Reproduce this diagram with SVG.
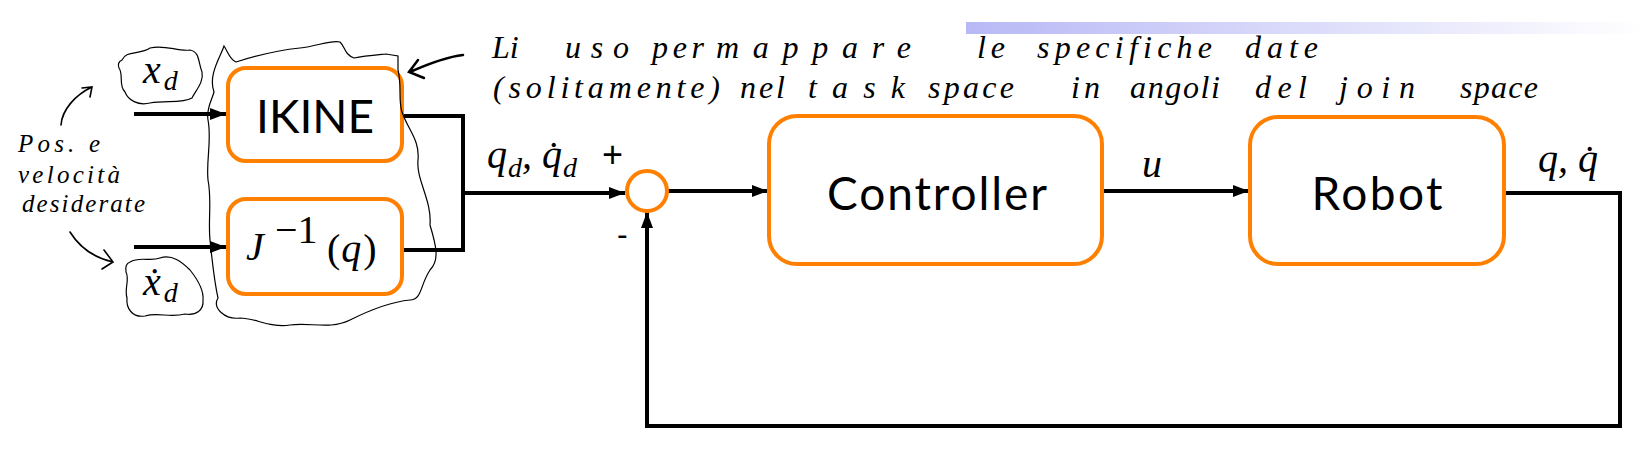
<svg xmlns="http://www.w3.org/2000/svg" width="1643" height="455" viewBox="0 0 1643 455">
<style>
.box{fill:#fff;stroke:#ff8000;stroke-width:4}
.ln{fill:none;stroke:#000;stroke-width:4}
.lbl{font-family:Lato,"Open Sans",sans-serif;font-size:46px;fill:#000;text-anchor:middle}
.m{font-family:"Liberation Serif","DejaVu Serif",serif;font-style:italic;font-size:40px;fill:#000}
.ms{font-family:"Liberation Serif","DejaVu Serif",serif;font-style:italic;font-size:28px;fill:#000}
.mu{font-family:"Liberation Serif","DejaVu Serif",serif;font-size:40px;fill:#000}
.hw{font-family:"Liberation Serif","DejaVu Serif",serif;font-style:italic;font-size:32px;fill:#000}
.hl{font-family:"Liberation Serif","DejaVu Serif",serif;font-style:italic;font-size:25px;fill:#000}
.cl{fill:none;stroke:#000;stroke-width:1.2}
.sg{font-family:"Liberation Sans",Arial,sans-serif;fill:#000}
</style>
<defs>
<marker id="ah" markerUnits="userSpaceOnUse" markerWidth="16" markerHeight="14" refX="16" refY="6" orient="auto">
<path d="M0,0 L16,6 L0,12 Z" fill="#000"/>
</marker>
<linearGradient id="bar" x1="0" y1="0" x2="1" y2="0">
<stop offset="0" stop-color="#b8b8f6"/>
<stop offset="1" stop-color="#ffffff"/>
</linearGradient>
</defs>
<rect x="966" y="22" width="677" height="12" fill="url(#bar)"/>
<g id="connectors">
<path class="ln" d="M134,114 H226" marker-end="url(#ah)"/>
<path class="ln" d="M134,247 H226" marker-end="url(#ah)"/>
<path class="ln" d="M401,116 H463 V250 H401"/>
<path class="ln" d="M463,193 H625" marker-end="url(#ah)"/>
<path class="ln" d="M667,191 H768" marker-end="url(#ah)"/>
<path class="ln" d="M1101,191 H1249" marker-end="url(#ah)"/>
<path class="ln" d="M1505,193 H1620 V426 H647 V212" marker-end="url(#ah)"/>
</g>
<g id="node-ikine">
<rect class="box" x="228" y="68" width="174" height="93" rx="18"/>
<text class="lbl" x="315" y="133">IKINE</text>
</g>
<g id="node-jinv">
<rect class="box" x="228" y="199" width="174" height="95" rx="18"/>
<text class="m" x="246" y="260">J</text>
<text class="mu" x="275" y="243" font-size="30">−1</text>
<text class="mu" x="327" y="262" font-size="44">(<tspan class="m" font-size="40" dx="1">q</tspan><tspan dx="2">)</tspan></text>
</g>
<g id="node-sum">
<circle cx="647" cy="191" r="20" fill="#fff" stroke="#ff8000" stroke-width="4"/>
<text class="sg" x="602" y="167" font-size="36">+</text>
<text class="sg" x="617" y="245" font-size="32">-</text>
</g>
<g id="node-controller">
<rect class="box" x="769" y="116" width="333" height="148" rx="28"/>
<text class="lbl" x="937" y="210" textLength="220">Controller</text>
</g>
<g id="node-robot">
<rect class="box" x="1250" y="117" width="254" height="147" rx="28"/>
<text class="lbl" x="1377" y="210" textLength="131">Robot</text>
</g>
<g id="labels">
<text class="m" x="143" y="83">x<tspan class="ms" dx="3" dy="7">d</tspan></text>
<text class="m" x="143" y="295">x&#x307;<tspan class="ms" dx="3" dy="7">d</tspan></text>
<text class="m" x="487" y="168">q<tspan class="ms" dx="1" dy="9">d</tspan><tspan dy="-9">, q&#x307;</tspan><tspan class="ms" dx="1" dy="9">d</tspan></text>
<text class="m" x="1142" y="177">u</text>
<text class="m" x="1538" y="172">q, q&#x307;</text>
</g>
<g id="annotations">
<path class="cl" d="M122,60 C126,50 140,55 150,48 C165,44 178,52 190,50 C200,52 198,62 202,72 C204,82 196,90 192,98 C182,104 165,100 150,103 C138,106 128,100 125,92 C118,85 124,75 119,68 C117,63 120,61 122,60 Z"/>
<path class="cl" d="M130,262 C140,256 150,262 160,258 C172,254 182,262 190,270 C198,280 204,290 203,300 C204,310 196,316 185,314 C170,318 158,312 145,316 C132,318 126,308 127,298 C124,288 130,280 126,272 C125,266 127,263 130,262 Z"/>
<path class="cl" d="M214,92 C208,75 220,58 224,46 C228,52 230,60 236,62 C255,56 280,50 300,48 C318,46 330,40 340,42 C346,48 344,54 354,58 C364,56 376,55 386,54 L398,56 L398,70 C402,85 398,100 402,112 C408,130 420,140 418,160 C416,180 432,200 430,225 C436,245 440,260 430,270 C420,285 422,300 410,300 C390,302 370,310 350,320 C330,330 310,322 290,325 C270,328 255,318 240,318 C225,320 212,308 218,298 C214,280 212,260 210,240 C208,220 212,200 208,180 C206,160 212,140 208,120 C206,108 212,100 214,92 Z"/>
<path fill="none" stroke="#000" stroke-width="2.5" stroke-linecap="round" d="M463,55 C445,57 428,64 410,72 M418,60 L409,72 L424,78"/>
<path fill="none" stroke="#000" stroke-width="1.6" stroke-linecap="round" d="M61,125 C62,110 75,95 92,87 M82,88 L92,87 L90,97"/>
<path fill="none" stroke="#000" stroke-width="1.6" stroke-linecap="round" d="M70,232 C80,248 95,258 113,262 M104,250 L113,262 L102,269"/>
<text class="hl" x="18" y="152" textLength="82" lengthAdjust="spacing">Pos. e</text>
<text class="hl" x="18" y="183" textLength="102" lengthAdjust="spacing">velocità</text>
<text class="hl" x="22" y="212" textLength="123" lengthAdjust="spacing">desiderate</text>
<text class="hw" x="492" y="58">Li</text>
<text class="hw" x="565" y="58" textLength="64" lengthAdjust="spacing">uso</text>
<text class="hw" x="652" y="58" textLength="52" lengthAdjust="spacing">per</text>
<text class="hw" x="716" y="58" textLength="195" lengthAdjust="spacing">mappare</text>
<text class="hw" x="977" y="58" textLength="28" lengthAdjust="spacing">le</text>
<text class="hw" x="1037" y="58" textLength="175" lengthAdjust="spacing">specifiche</text>
<text class="hw" x="1245" y="58" textLength="73" lengthAdjust="spacing">date</text>
<text class="hw" x="493" y="98" textLength="227" lengthAdjust="spacing">(solitamente)</text>
<text class="hw" x="740" y="98" textLength="45" lengthAdjust="spacing">nel</text>
<text class="hw" x="808" y="98" textLength="97" lengthAdjust="spacing">task</text>
<text class="hw" x="928" y="98" textLength="86" lengthAdjust="spacing">space</text>
<text class="hw" x="1071" y="98" textLength="29" lengthAdjust="spacing">in</text>
<text class="hw" x="1130" y="98" textLength="90" lengthAdjust="spacing">angoli</text>
<text class="hw" x="1255" y="98" textLength="52" lengthAdjust="spacing">del</text>
<text class="hw" x="1339" y="98" textLength="76" lengthAdjust="spacing">join</text>
<text class="hw" x="1460" y="98" textLength="78" lengthAdjust="spacing">space</text>
</g>
</svg>
